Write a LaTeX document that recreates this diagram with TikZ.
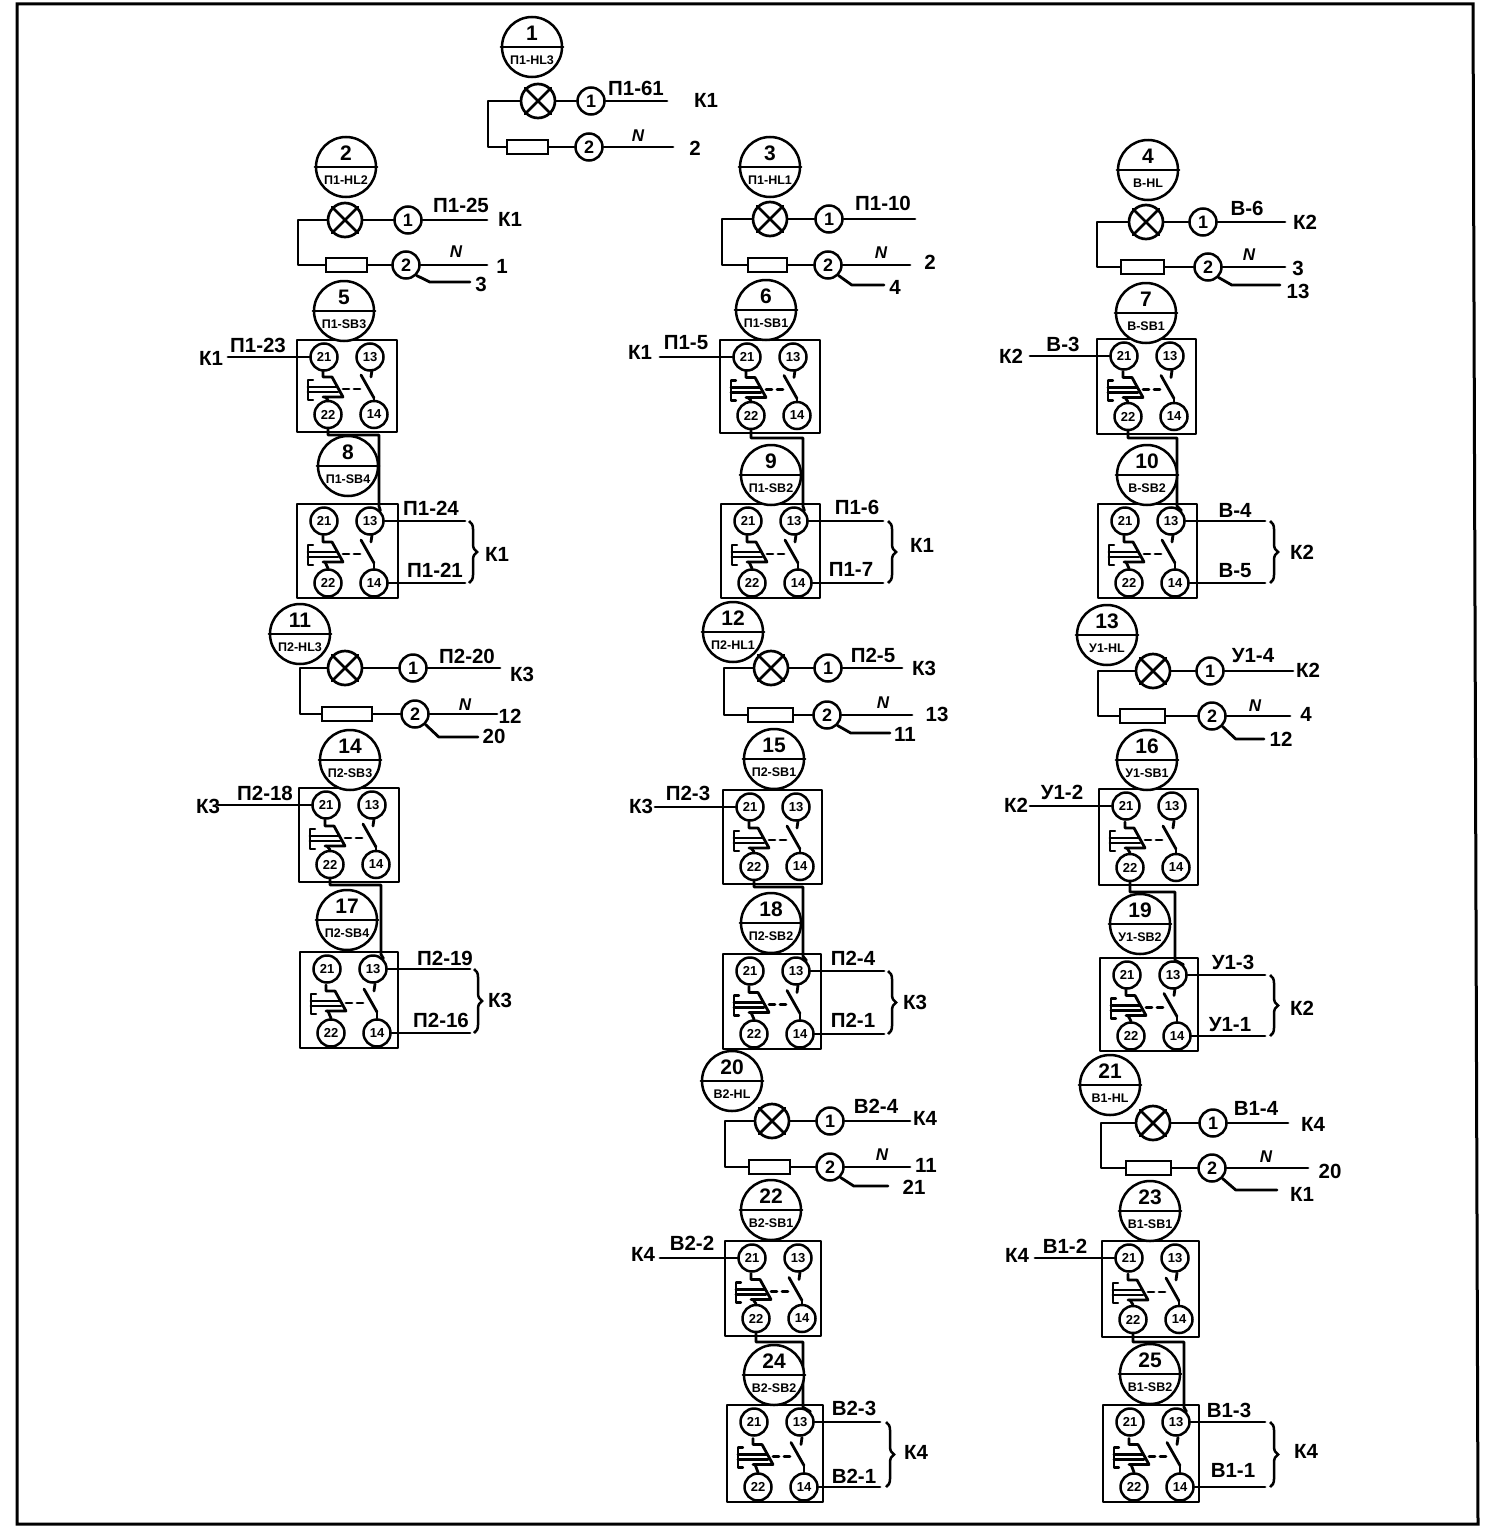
\documentclass[tikz,border=0pt]{standalone}
\usepackage{fontspec}
\setmainfont{Liberation Sans}
\usetikzlibrary{calc,decorations.pathreplacing}
\newcounter{lbc}
\tikzset{
 x=1pt,y=-1pt,
 wire/.style={line width=2.8pt,line join=round,line cap=round},
 thin wire/.style={line width=2.1pt,line join=round,line cap=round},
 tagc/.style={circle,draw,line width=2.5pt,minimum size=60pt,inner sep=0pt,fill=white},
 tagnum/.style={font=\bfseries\fontsize{21}{21}\selectfont,inner sep=0pt},
 taglab/.style={font=\bfseries\fontsize{12.5}{12.5}\selectfont,inner sep=0pt},
 term/.style={circle,draw,line width=2.5pt,minimum size=27pt,inner sep=0pt,fill=white,font=\bfseries\fontsize{13}{13}\selectfont},
 termbig/.style={term,font=\bfseries\fontsize{18}{18}\selectfont},
 lampc/.style={circle,draw,line width=2.7pt,minimum size=34pt,inner sep=0pt,fill=white},
 fusebox/.style={rectangle,draw,line width=2.6pt,minimum height=14pt,inner sep=0pt,fill=white},
 boxr/.style={line width=2.7pt,line join=round},
 lab/.style={font=\bfseries\fontsize{20.5}{20.5}\selectfont,inner sep=0pt},
 labn/.style={font=\bfseries\itshape\fontsize{17}{17}\selectfont,inner sep=0pt},
 bracew/.style={line width=2.5pt,decorate,decoration={brace,amplitude=8pt}},
}
\newcommand\lb[3]{\stepcounter{lbc}\node[lab] (lb\arabic{lbc}) at (#1,#2) {#3};}
\newcommand\lbn[2]{\stepcounter{lbc}\node[labn] (lb\arabic{lbc}) at (#1,#2) {N};}
% tag circle
\newcommand\tagn[5]{%
 \node[tagc] (#1) at (#2,#3) {};
 \draw[thin wire] (#1.west) -- (#1.east);
 \node[tagnum] (#1n) at ($(#1.center)+(0,-14)$) {#4};
 \node[taglab] (#1l) at ($(#1.center)+(0,13)$) {#5};
}
% lamp group: id lx ly leftx fl fr fy t1x t2x
\newcommand\lampg[9]{%
 \node[lampc] (#1L) at (#2,#3) {};
 \draw[wire] (#1L.north west) -- (#1L.south east) (#1L.north east) -- (#1L.south west);
 \node[fusebox,minimum width={#6-#5}] (#1F) at ({(#5+#6)/2},#7) {};
 \node[termbig] (#1a) at (#8,#3) {1};
 \node[termbig] (#1b) at (#9,#7) {2};
 \coordinate (#1c) at (#4,#3);
 \coordinate (#1d) at (#4,#7);
 \draw[wire] (#1L.west) -- (#1c) -- (#1d) -- (#1F.west);
 \draw[wire] (#1L.east) -- (#1a.west);
 \draw[wire] (#1F.east) -- (#1b.west);
}
% wires: id end1 end2 bx by
\newcommand\wires[5]{%
 \coordinate (#1e) at (#2,0);
 \coordinate (#1f) at (#3,0);
 \draw[wire] (#1a.east) -- (#1a.east -| #1e);
 \draw[wire] (#1b.east) -- (#1b.east -| #1f);
 \coordinate (#1g) at (#4,#5);
 \path (#1b.east) ++(9,0) coordinate (#1h);
 \coordinate (#1k) at (#1h |- #1g);
 \draw[wire] (#1b.south east) -- (#1k) -- (#1g);
}
% pushbutton: id x0 y0 x1 y1 ; bottom terminals sit \boff above the lower edge
\def\boff{17.5}
\newcommand\btn[5]{%
 \pgfmathsetmacro\bw{#4-#2}\pgfmathsetmacro\bh{#5-#3}\pgfmathsetmacro\bo{(\bh-92)/2}
 \begin{scope}[shift={(#2,#3)}]
 \coordinate (#1p) at (\bw,0);
 \coordinate (#1q) at (\bw,\bh);
 \draw[boxr] (0,0) rectangle (\bw,\bh);
 \node[term] (#1t21) at (27,17) {21};
 \node[term] (#1t13) at (73,17) {13};
 \node[term] (#1t22) at (31,{\bh-\boff}) {22};
 \node[term] (#1t14) at (77,{\bh-\boff}) {14};
 \begin{scope}[shift={(0,\bo)}]
 \draw[wire] (26,31) -- (26,37) -- (35,37) -- (46,57) -- (26,57);
 \draw[thin wire] (16,40) -- (11,40) -- (11,60) -- (16,60);
 \draw[wire] (11,47) -- (40,47) (11,52) -- (41,52);
 \draw[wire] (46,49) -- (52,49) (57,49) -- (63,49);
 \draw[wire] (75,30) -- (74,37);
 \draw[wire] (64,35) -- (77,58);
 \coordinate (#1u) at (28,57);
 \coordinate (#1v) at (77,58);
 \end{scope}
 \end{scope}
 \draw[wire] (#1u) -- (#1t22.north);
 \draw[wire] (#1v) -- (#1t14.north);
}
% bridge: a b xv yh
\newcommand\bridge[4]{%
 \coordinate (#1#2m) at (#3,#4);
 \coordinate (#1#2n) at (#1#2m |- #2t13.north);
 \draw[wire] (#1t22.south) |- (#1#2m) -- (#1#2n) -- (#2t13.north east);
}
% input wire: id xstart
\newcommand\inw[2]{%
 \coordinate (#1s) at (#2,0);
 \draw[wire] (#1t21.west -| #1s) -- (#1t21.west);
}
% outputs + brace: id end bracex
\newcommand\outw[3]{%
 \coordinate (#1w) at (#2,0);
 \coordinate (#1x) at (#3,0);
 \draw[wire] (#1t13.east) -- (#1t13.east -| #1w);
 \draw[wire] (#1t14.east) -- (#1t14.east -| #1w);
 \draw[bracew] (#1t13.east -| #1x) -- (#1t14.east -| #1x);
}
\begin{document}
\begin{tikzpicture}
\useasboundingbox (0,0) rectangle (1487,1528);
\fill[white] (0,0) rectangle (1487,1528);
\draw[line width=3pt,line join=miter] (17,4) -- (1473,4) -- (1478,1524) -- (17,1524) -- cycle;

% lamp groups
\tagn{T1}{532}{47}{1}{П1-HL3}
\lampg{g1}{538}{101}{488}{507}{548}{147}{591}{589}
\coordinate (g1e) at (667,0); \coordinate (g1f) at (673,0);
\draw[wire] (g1a.east) -- (g1a.east -| g1e);
\draw[wire] (g1b.east) -- (g1b.east -| g1f);
\lb{636}{88}{П1-61}\lb{706}{100}{К1}\lbn{638}{136}\lb{695}{148}{2}

\tagn{T2}{346}{167}{2}{П1-HL2}
\lampg{g2}{345}{220}{298}{326}{367}{265}{408}{406}
\wires{g2}{487}{487}{470}{282}
\lb{461}{205}{П1-25}\lb{510}{219}{К1}\lbn{456}{252}\lb{502}{266}{1}\lb{481}{284}{3}

\tagn{T3}{770}{167}{3}{П1-HL1}
\lampg{g3}{770}{219}{722}{748}{787}{265}{829}{828}
\wires{g3}{915}{910}{884}{285}
\lb{883}{203}{П1-10}\lbn{881}{253}\lb{930}{262}{2}\lb{895}{287}{4}

\tagn{T4}{1148}{170}{4}{В-HL}
\lampg{g4}{1146}{222}{1097}{1121}{1164}{267}{1203}{1208}
\wires{g4}{1285}{1285}{1280}{285}
\lb{1247}{208}{В-6}\lb{1305}{222}{К2}\lbn{1249}{255}\lb{1298}{268}{3}\lb{1298}{291}{13}

\tagn{T11}{300}{634}{11}{П2-HL3}
\lampg{g11}{345}{668}{300}{322}{372}{714}{413}{415}
\wires{g11}{500}{497}{478}{737}
\lb{467}{656}{П2-20}\lb{522}{674}{К3}\lbn{465}{705}\lb{510}{716}{12}\lb{494}{736}{20}

\tagn{T12}{733}{632}{12}{П2-HL1}
\lampg{g12}{771}{668}{724}{748}{793}{715}{828}{827}
\wires{g12}{902}{912}{890}{733}
\lb{873}{655}{П2-5}\lb{924}{668}{К3}\lbn{883}{703}\lb{937}{714}{13}\lb{905}{734}{11}

\tagn{T13}{1107}{635}{13}{У1-HL}
\lampg{g13}{1153}{671}{1098}{1120}{1165}{716}{1210}{1212}
\wires{g13}{1293}{1290}{1264}{739}
\lb{1253}{656}{У1-4}\lb{1308}{670}{К2}\lbn{1255}{706}\lb{1306}{714}{4}\lb{1281}{739}{12}

\tagn{T20}{732}{1081}{20}{В2-HL}
\lampg{g20}{772}{1121}{725}{749}{790}{1167}{830}{830}
\wires{g20}{910}{910}{888}{1186}
\lb{876}{1106}{В2-4}\lb{925}{1118}{К4}\lbn{882}{1155}\lb{926}{1165}{11}\lb{914}{1187}{21}

\tagn{T21}{1110}{1085}{21}{В1-HL}
\lampg{g21}{1153}{1123}{1101}{1126}{1171}{1168}{1213}{1212}
\wires{g21}{1288}{1308}{1277}{1190}
\lb{1256}{1108}{В1-4}\lb{1313}{1124}{К4}\lbn{1266}{1157}\lb{1330}{1171}{20}\lb{1302}{1194}{К1}

% button boxes
\def\boff{17.5}
\btn{b5}{297}{340}{397}{432}
\btn{b6}{720}{340}{820}{433}
\btn{b7}{1097}{339}{1196}{434}
\btn{b14}{299}{788}{399}{882}
\btn{b15}{723}{790}{822}{884}
\btn{b16}{1099}{789}{1198}{885}
\btn{b22}{725}{1241}{821}{1336}
\btn{b23}{1102}{1241}{1199}{1337}
\def\boff{15}
\btn{b8}{297}{504}{398}{598}
\btn{b9}{721}{504}{820}{598}
\btn{b10}{1098}{504}{1197}{598}
\btn{b17}{300}{952}{398}{1048}
\btn{b18}{723}{954}{821}{1049}
\btn{b19}{1100}{958}{1198}{1051}
\btn{b24}{727}{1405}{823}{1502}
\btn{b25}{1103}{1405}{1199}{1502}

% bridges
\bridge{b5}{b8}{379}{435}
\bridge{b6}{b9}{803}{438}
\bridge{b7}{b10}{1177}{438}
\bridge{b14}{b17}{381}{885}
\bridge{b15}{b18}{803}{887}
\bridge{b16}{b19}{1175}{892}
\bridge{b22}{b24}{803}{1342}
\bridge{b23}{b25}{1184}{1342}

% button tags
\tagn{T5}{344}{311}{5}{П1-SB3}
\tagn{T8}{348}{466}{8}{П1-SB4}
\tagn{T6}{766}{310}{6}{П1-SB1}
\tagn{T9}{771}{475}{9}{П1-SB2}
\tagn{T7}{1146}{313}{7}{В-SB1}
\tagn{T10}{1147}{475}{10}{В-SB2}
\tagn{T14}{350}{760}{14}{П2-SB3}
\tagn{T17}{347}{920}{17}{П2-SB4}
\tagn{T15}{774}{759}{15}{П2-SB1}
\tagn{T18}{771}{923}{18}{П2-SB2}
\tagn{T16}{1147}{760}{16}{У1-SB1}
\tagn{T19}{1140}{924}{19}{У1-SB2}
\tagn{T22}{771}{1210}{22}{В2-SB1}
\tagn{T24}{774}{1375}{24}{В2-SB2}
\tagn{T23}{1150}{1211}{23}{В1-SB1}
\tagn{T25}{1150}{1374}{25}{В1-SB2}

% inputs
\inw{b5}{228}\lb{258}{345}{П1-23}\lb{211}{358}{К1}
\inw{b6}{660}\lb{686}{343}{П1-5}\lb{640}{352}{К1}
\inw{b7}{1030}\lb{1063}{344}{В-3}\lb{1011}{356}{К2}
\inw{b14}{218}\lb{265}{793}{П2-18}\lb{208}{806}{К3}
\inw{b15}{655}\lb{688}{793}{П2-3}\lb{641}{806}{К3}
\inw{b16}{1030}\lb{1062}{792}{У1-2}\lb{1016}{805}{К2}
\inw{b22}{660}\lb{692}{1243}{В2-2}\lb{643}{1254}{К4}
\inw{b23}{1035}\lb{1065}{1246}{В1-2}\lb{1017}{1255}{К4}

% outputs
\outw{b8}{465}{469}\lb{431}{508}{П1-24}\lb{435}{570}{П1-21}\lb{497}{554}{К1}
\outw{b9}{883}{888}\lb{857}{507}{П1-6}\lb{851}{569}{П1-7}\lb{922}{545}{К1}
\outw{b10}{1265}{1270}\lb{1235}{510}{В-4}\lb{1235}{571}{В-5}\lb{1302}{552}{К2}
\outw{b17}{470}{474}\lb{445}{958}{П2-19}\lb{441}{1020}{П2-16}\lb{500}{1000}{К3}
\outw{b18}{884}{888}\lb{853}{958}{П2-4}\lb{853}{1020}{П2-1}\lb{915}{1002}{К3}
\outw{b19}{1265}{1270}\lb{1233}{962}{У1-3}\lb{1230}{1025}{У1-1}\lb{1302}{1008}{К2}
\outw{b24}{880}{886}\lb{854}{1408}{В2-3}\lb{854}{1476}{В2-1}\lb{916}{1452}{К4}
\outw{b25}{1265}{1270}\lb{1229}{1410}{В1-3}\lb{1233}{1470}{В1-1}\lb{1306}{1451}{К4}
\end{tikzpicture}
\end{document}
